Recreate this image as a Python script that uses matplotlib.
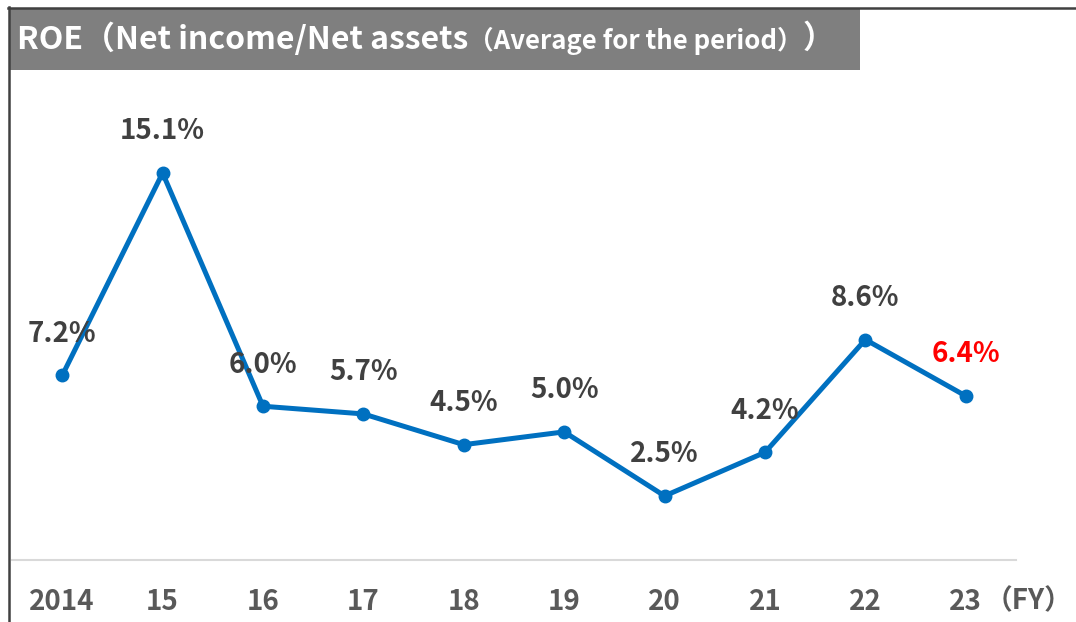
import matplotlib
matplotlib.use("Agg")
import matplotlib.pyplot as plt
from matplotlib.lines import Line2D
from matplotlib.patches import Rectangle

plt.rcParams['font.family'] = ['Noto Sans CJK JP', 'DejaVu Sans']

# data
years = ['2014', '15', '16', '17', '18', '19', '20', '21', '22', '23']
roe = [7.2, 15.1, 6.0, 5.7, 4.5, 5.0, 2.5, 4.2, 8.6, 6.4]
labels = ['7.2%', '15.1%', '6.0%', '5.7%', '4.5%', '5.0%', '2.5%', '4.2%', '8.6%', '6.4%']
label_colors = ['#404040'] * 9 + ['#ff0000']

W, H = 1076, 622
fig = plt.figure(figsize=(W / 100, H / 100), dpi=100)


def fx(x):
    return x / W


def fy(y):
    return 1 - y / H


# plot area
ax = fig.add_axes([fx(12), fy(560), fx(1016) - fx(12), fy(80) - fy(560)])
x = list(range(len(years)))
ax.plot(x, roe, color='#0070c0', linewidth=3.6, marker='o', markersize=9, solid_capstyle='round')
for i, v in enumerate(roe):
    ax.annotate(labels[i], (i, v), xytext=(0, 30), textcoords='offset points',
                ha='center', va='center', fontsize=20, fontweight='bold', color=label_colors[i])

ax.set_xlim(-0.5, len(years) - 0.5)
ax.set_ylim(0, 18.73)
ax.set_xticks(x)
ax.set_xticklabels(years, fontsize=20, fontweight='bold', color='#595959')
ax.tick_params(axis='x', length=0, pad=20)
ax.set_yticks([])
for s in ['top', 'left', 'right']:
    ax.spines[s].set_visible(False)
ax.spines['bottom'].set_color('#d9d9d9')
ax.spines['bottom'].set_linewidth(1.5)
ax.patch.set_alpha(0)

fig.text(fx(985), fy(601), '（FY）', fontsize=20, fontweight='bold', color='#595959',
         ha='left', va='center')

# frame lines and title box
fig.add_artist(Line2D([fx(9), fx(9)], [fy(7), 0], color='#404040', linewidth=1.8))
fig.add_artist(Line2D([fx(8), 1], [fy(8), fy(8)], color='#404040', linewidth=1.8))
fig.add_artist(Rectangle((fx(10), fy(70)), fx(860) - fx(10), fy(9) - fy(70),
                         facecolor='#7f7f7f', edgecolor='none'))

r = fig.canvas.get_renderer()
t1 = fig.text(fx(17), fy(39), 'ROE（Net income/Net assets', fontsize=23, fontweight='bold',
              color='white', ha='left', va='center')
e1 = t1.get_window_extent(renderer=r)
t2 = fig.text(e1.x1 / W, fy(41), '（Average for the period）', fontsize=18.5, fontweight='bold',
              color='white', ha='left', va='center')
e2 = t2.get_window_extent(renderer=r)
fig.text(e2.x1 / W, fy(39), '）', fontsize=23, fontweight='bold',
         color='white', ha='left', va='center')

fig.savefig('out.png', dpi=100)
